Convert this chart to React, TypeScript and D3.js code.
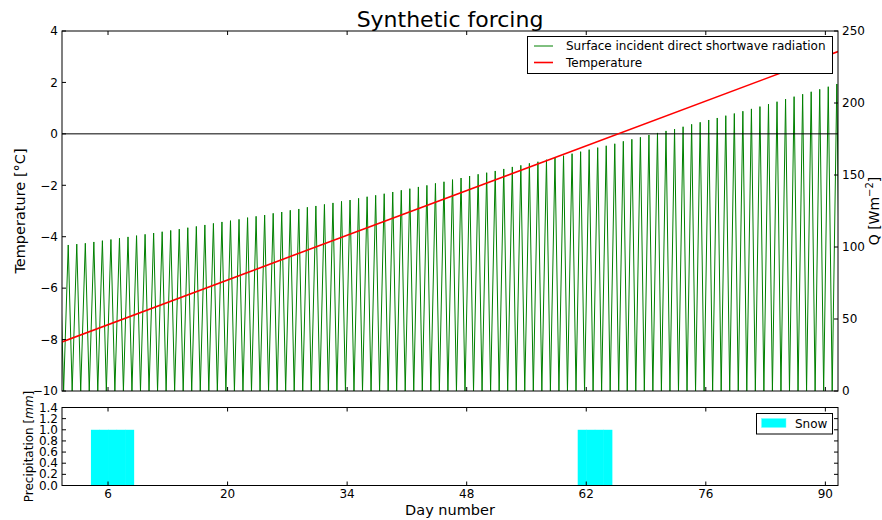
import React from "react";
import * as d3 from "d3";

// ---------- data ----------
const title = "Synthetic forcing";
const xTicks = [6, 20, 34, 48, 62, 76, 90];
const tempTicks = [4, 2, 0, -2, -4, -6, -8, -10];
const radTicks = [0, 50, 100, 150, 200, 250];
const precipTicks = [0.0, 0.2, 0.4, 0.6, 0.8, 1.0, 1.2, 1.4];

// daily peak of surface incident direct shortwave radiation (W m-2), day 0..91
const radPeakValues = [
  100.8, 101.4, 102.0, 102.6, 103.5, 104.4, 105.2, 106.1, 107.0, 107.9,
  108.8, 109.7, 110.6, 111.5, 112.4, 113.4, 114.3, 115.3, 116.4, 117.4,
  118.3, 119.2, 120.4, 121.3, 122.2, 123.4, 124.3, 125.5, 126.4, 127.6,
  128.5, 129.6, 130.6, 131.7, 132.6, 133.8, 134.9, 135.9, 137.0, 138.2,
  139.4, 140.5, 141.7, 142.8, 144.2, 145.3, 146.8, 147.9, 149.3, 150.5,
  151.6, 152.8, 154.2, 155.6, 156.7, 158.1, 159.2, 160.6, 161.8, 163.4,
  164.8, 166.2, 167.6, 169.0, 170.3, 171.7, 173.4, 174.8, 176.2, 177.8,
  179.2, 180.6, 181.9, 183.5, 185.2, 186.6, 188.2, 189.6, 191.2, 192.7,
  194.3, 195.9, 197.5, 199.2, 200.9, 202.7, 204.4, 206.1, 207.8, 209.5,
  211.3, 213.2,
];
const radFirstDay = 0;
const peakOffset = 0.34; // time of day of the peak (fraction of day)
const troughOffset = -0.2; // time of the nightly minimum

// temperature (linear ramp), endpoints
const tempDays = [0.61, 91.48];
const tempValues = [-8.09, 3.2];

// snow precipitation (mm), daily
const snowDays = [4, 5, 6, 7, 8, 61, 62, 63, 64];
const snowValues = [1, 1, 1, 1, 1, 1, 1, 1, 1];

const xDomain = [0.61, 91.48];

// ---------- layout ----------
const W = 882;
const H = 520;
const L = 62;
const R = 838;
const T1 = 31;
const B1 = 391;
const T2 = 407.5;
const B2 = 485.5;
const FONT = "'DejaVu Sans', sans-serif";
const TICK = 4;

export default function App() {
  const x = d3.scaleLinear().domain(xDomain).range([L, R]);
  const yT = d3.scaleLinear().domain([-10, 4]).range([B1, T1]);
  const yR = d3.scaleLinear().domain([0, 250]).range([B1, T1]);
  const yP = d3.scaleLinear().domain([0, 1.4]).range([B2, T2]);

  const radPts: [number, number][] = [];
  radPeakValues.forEach((v, i) => {
    const day = radFirstDay + i;
    radPts.push([day + troughOffset, 0]);
    radPts.push([day + peakOffset, v]);
  });
  radPts.push([radFirstDay + radPeakValues.length + troughOffset, 0]);

  const radLine = d3
    .line<[number, number]>()
    .x((d) => x(d[0]))
    .y((d) => yR(d[1]));
  const tempLine = d3
    .line<number>()
    .x((d, i) => x(tempDays[i]))
    .y((d) => yT(d));

  const minus = (v: number) => (v < 0 ? "\u2212" + Math.abs(v) : String(v));

  return (
    <svg
      width={W}
      height={H}
      style={{ position: "absolute", left: 0, top: 0, background: "#fff" }}
      fontFamily={FONT}
    >
      <defs>
        <clipPath id="clipTop">
          <rect x={L} y={T1} width={R - L} height={B1 - T1} />
        </clipPath>
        <clipPath id="clipBot">
          <rect x={L} y={T2} width={R - L} height={B2 - T2} />
        </clipPath>
      </defs>
      <rect x={0} y={0} width={W} height={H} fill="#fff" />

      {/* title */}
      <text x={(L + R) / 2} y={27} textAnchor="middle" fontSize={22}>
        {title}
      </text>

      {/* ---------- top panel ---------- */}
      <g clipPath="url(#clipTop)">
        <path d={radLine(radPts) || ""} fill="none" stroke="#008000" strokeWidth={1} />
        <line x1={L} x2={R} y1={yT(0)} y2={yT(0)} stroke="#000" strokeWidth={1} />
        <path d={tempLine(tempValues) || ""} fill="none" stroke="#ff0000" strokeWidth={1.6} />
      </g>
      <rect x={L} y={T1} width={R - L} height={B1 - T1} fill="none" stroke="#000" strokeWidth={1} />

      {/* left ticks */}
      {tempTicks.map((t) => (
        <g key={"lt" + t}>
          <line x1={L} x2={L + TICK} y1={yT(t)} y2={yT(t)} stroke="#000" />
          <text x={L - 4} y={yT(t) + 4.3} textAnchor="end" fontSize={12}>
            {minus(t)}
          </text>
        </g>
      ))}
      {/* right ticks */}
      {radTicks.map((t) => (
        <g key={"rt" + t}>
          <line x1={R - TICK} x2={R} y1={yR(t)} y2={yR(t)} stroke="#000" />
          <text x={R + 4} y={yR(t) + 4.3} textAnchor="start" fontSize={12}>
            {t}
          </text>
        </g>
      ))}
      {/* x ticks top panel */}
      {xTicks.map((t) => (
        <g key={"xt1" + t}>
          <line x1={x(t)} x2={x(t)} y1={T1} y2={T1 + TICK} stroke="#000" />
          <line x1={x(t)} x2={x(t)} y1={B1} y2={B1 - TICK} stroke="#000" />
        </g>
      ))}

      {/* axis labels */}
      <text
        transform={`translate(25,${(T1 + B1) / 2}) rotate(-90)`}
        textAnchor="middle"
        fontSize={14.5}
      >
        Temperature [°C]
      </text>
      <text
        transform={`translate(879,${(T1 + B1) / 2}) rotate(-90)`}
        textAnchor="middle"
        fontSize={14}
      >
        Q  [Wm
        <tspan dy={-6} fontSize={10}>
          −2
        </tspan>
        <tspan dy={6}>]</tspan>
      </text>

      {/* legend top */}
      <g>
        <rect x={527.5} y={36.5} width={305} height={37} fill="#fff" stroke="#000" strokeWidth={1} />
        <line x1={534} x2={553} y1={46} y2={46} stroke="#008000" strokeWidth={1} />
        <text x={566} y={50.3} fontSize={12}>
          Surface incident direct shortwave radiation
        </text>
        <line x1={534} x2={553} y1={62.5} y2={62.5} stroke="#ff0000" strokeWidth={1.6} />
        <text x={566} y={66.8} fontSize={12}>
          Temperature
        </text>
      </g>

      {/* ---------- bottom panel ---------- */}
      <g clipPath="url(#clipBot)">
        {snowDays.map((d, i) => (
          <rect
            key={"s" + d}
            x={x(d)}
            y={yP(snowValues[i])}
            width={x(d + 1) - x(d) + 0.5}
            height={yP(0) - yP(snowValues[i])}
            fill="#00ffff"
          />
        ))}
        <line x1={L} x2={R} y1={yP(0)} y2={yP(0)} stroke="#00bfbf" strokeWidth={1} />
      </g>
      <rect x={L} y={T2} width={R - L} height={B2 - T2} fill="none" stroke="#000" strokeWidth={1} />
      {precipTicks.map((t) => (
        <g key={"pt" + t}>
          <line x1={L} x2={L + TICK} y1={yP(t)} y2={yP(t)} stroke="#000" />
          <line x1={R - TICK} x2={R} y1={yP(t)} y2={yP(t)} stroke="#000" />
          <text x={L - 4} y={yP(t) + 4} textAnchor="end" fontSize={12}>
            {t.toFixed(1)}
          </text>
        </g>
      ))}
      {xTicks.map((t) => (
        <g key={"xt2" + t}>
          <line x1={x(t)} x2={x(t)} y1={T2} y2={T2 + TICK} stroke="#000" />
          <line x1={x(t)} x2={x(t)} y1={B2} y2={B2 - TICK} stroke="#000" />
          <text x={x(t)} y={497.5} textAnchor="middle" fontSize={12}>
            {t}
          </text>
        </g>
      ))}
      <text
        transform={`translate(33,${(T2 + B2) / 2}) rotate(-90)`}
        textAnchor="middle"
        fontSize={12}
      >
        Precipitation [<tspan fontStyle="italic">mm</tspan>]
      </text>
      <text x={(L + R) / 2} y={515} textAnchor="middle" fontSize={14.5}>
        Day number
      </text>

      {/* legend bottom */}
      <g>
        <rect x={756.5} y={413.5} width={76} height={20.5} fill="#fff" stroke="#000" strokeWidth={1} />
        <rect x={761.5} y={418.5} width={24.5} height={9} fill="#00ffff" stroke="#7ff" strokeWidth={0.5} />
        <text x={795} y={427.5} fontSize={12}>
          Snow
        </text>
      </g>
    </svg>
  );
}
